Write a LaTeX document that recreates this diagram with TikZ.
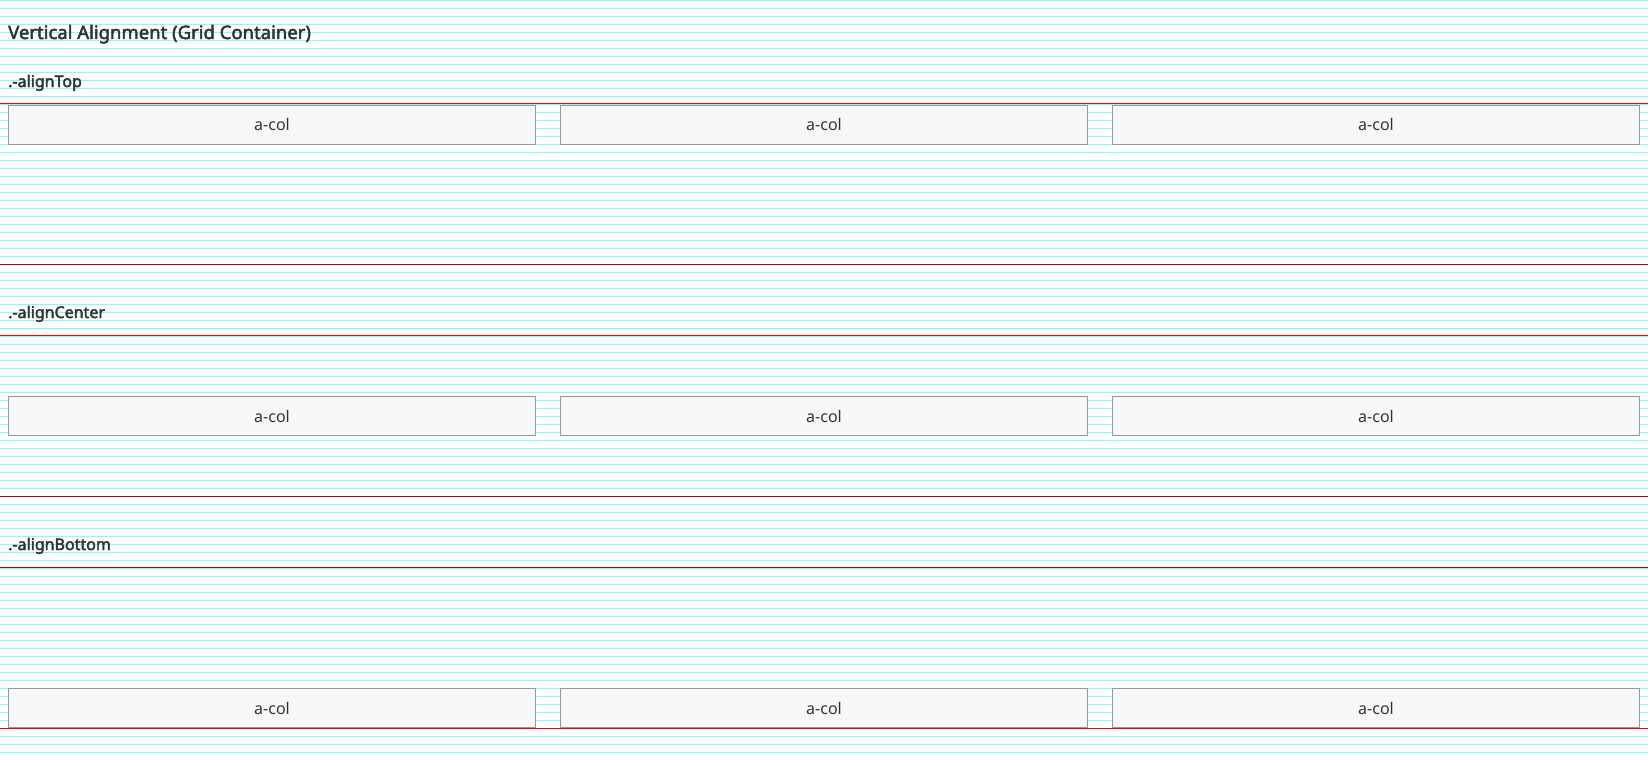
\documentclass[tikz,border=0pt]{standalone}
\usepackage{fontspec}
\setmainfont{Noto Sans}
\newfontfamily\semib[FakeBold=2.5]{Noto Sans}
\definecolor{gridc}{HTML}{80FFFF}
\definecolor{boxfill}{HTML}{F7F7F7}
\definecolor{boxline}{HTML}{999999}
\definecolor{txt}{HTML}{333333}
\definecolor{redl}{HTML}{FF0000}
\definecolor{redd}{HTML}{C00000}
\begin{document}
\begin{tikzpicture}[x=1pt,y=-1pt,
  colbox/.style={draw=boxline,fill=boxfill,line width=1pt,minimum width=527pt,minimum height=39pt,inner sep=0pt,outer sep=0pt,text=txt,font=\fontsize{16}{19}\selectfont},
  gridline/.style={draw=gridc,line width=1.1pt},
  rline/.style={draw=redl,line width=1.2pt},
  rdark/.style={draw=redd,line width=1.2pt},
  label/.style={anchor=base west,inner sep=0pt,text=txt,font=\fontsize{16}{19}\semib},
  title/.style={anchor=base west,inner sep=0pt,text=txt,font=\fontsize{18.5}{22}\semib}]
\useasboundingbox (0,0) rectangle (1648,760);
\fill[white] (0,0) rectangle (1648,760);
\foreach \k in {0,...,94} \draw[gridline] (0,8*\k+0.5) -- (1648,8*\k+0.5);
% titles
\node[title] (title) at (8,39) {Vertical Alignment (Grid Container)};
\node[label] (ltop) at (8,87) {.-alignTop};
\node[label] (lcenter) at (8,318) {.-alignCenter};
\node[label] (lbottom) at (8,550) {.-alignBottom};
% container lines
\draw[rline] (0,103.5) -- (1648,103.5);
\draw[rdark] (0,264.5) -- (1648,264.5);
\draw[rline] (0,335.5) -- (1648,335.5);
\draw[rdark] (0,496.5) -- (1648,496.5);
\draw[rdark] (0,567.5) -- (1648,567.5);
\draw[rline] (0,728.5) -- (1648,728.5);
% boxes
\node[colbox] (t1) at (272,124.5) {a-col};
\node[colbox] (t2) at (824,124.5) {a-col};
\node[colbox] (t3) at (1376,124.5) {a-col};
\node[colbox] (c1) at (272,416) {a-col};
\node[colbox] (c2) at (824,416) {a-col};
\node[colbox] (c3) at (1376,416) {a-col};
\node[colbox] (b1) at (272,708) {a-col};
\node[colbox] (b2) at (824,708) {a-col};
\node[colbox] (b3) at (1376,708) {a-col};
\end{tikzpicture}
\end{document}
